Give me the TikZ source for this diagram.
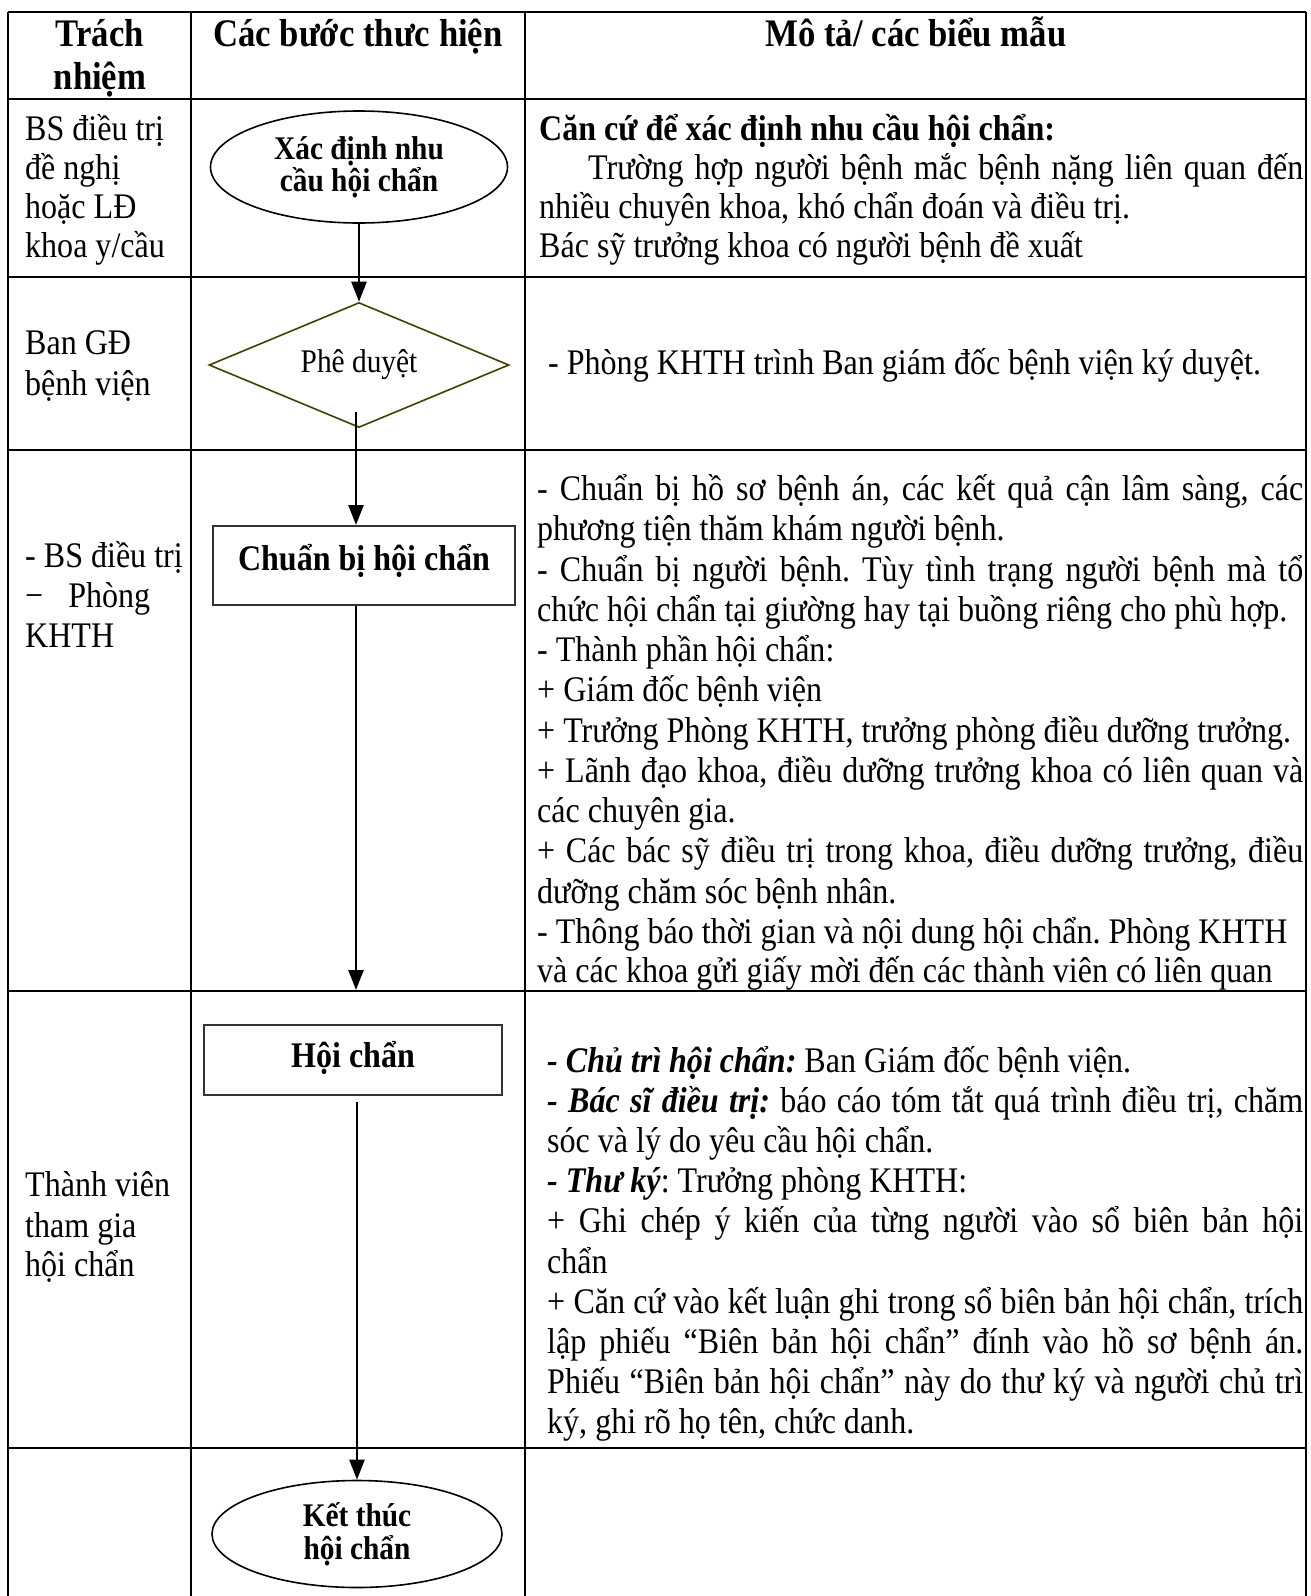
\documentclass[tikz,border=0pt]{standalone}
\usepackage{fontspec}
\setmainfont[FakeStretch=0.89]{Liberation Serif}
\usepackage{tikz}
\usetikzlibrary{shapes.geometric,arrows.meta}
\definecolor{olivedk}{RGB}{66,62,4}
\newcommand\bodyfont{\fontsize{36}{40}\selectfont}
\newcommand\headfont{\fontsize{39}{43}\selectfont\bfseries}
\newcommand\stepfont{\fontsize{33}{32}\selectfont}
\newcommand\jst[2]{\makebox[#1pt][s]{#2}}
\newcommand\bi[1]{\textbf{\textit{#1}}}
\frenchspacing

\begin{document}
\begin{tikzpicture}[x=1pt,y=-1pt,
  grid/.style={line width=2.7pt},
  txt/.style={anchor=base west,inner sep=0pt,font=\bodyfont},
  hdr/.style={anchor=base,inner sep=0pt,font=\headfont},
  oval/.style={draw,ellipse,line width=1.6pt,inner sep=0pt,align=center,font=\stepfont\bfseries},
  stepbox/.style={draw=black!80,line width=2pt,inner sep=0pt,font=\bodyfont\bfseries},
  flow/.style={line width=2.4pt,-{Triangle[length=20pt,width=15pt]}}]
\useasboundingbox (0,0) rectangle (1310,1596);

\draw[grid] (8,12) -- (1306,12) ; % top
\draw[grid] (8,99) -- (1306,99) ; % header
\draw[grid] (8,277) -- (1306,277) ; % row 1
\draw[grid] (8,450) -- (1306,450) ; % row 2
\draw[grid] (8,991) -- (1306,991) ; % row 3
\draw[grid] (8,1448) -- (1306,1448) ; % row 4
\draw[grid] (8,12) -- (8,1596) ; % left
\draw[grid] (191,12) -- (191,1596) ;
\draw[grid] (525,12) -- (525,1596) ;
\draw[grid] (1306,12) -- (1306,1596) ; % right

\node[hdr] (h1a) at (100,46) {Trách}; % header
\node[hdr] (h1b) at (100,89) {nhiệm};
\node[hdr] (h2) at (358,46) {Các bước thưc hiện};
\node[hdr] (h3) at (916,46) {Mô tả/ các biểu mẫu};

% row 1
\node[txt] (r1a) at (25,140) {BS điều trị};
\node[txt] (r1b) at (25,179) {đề nghị};
\node[txt] (r1c) at (25,218) {hoặc LĐ};
\node[txt] (r1d) at (25,257) {khoa y/cầu};
\node[oval,minimum width=297pt,minimum height=112pt] (xacdinh) at (359,167) {Xác định nhu\\cầu hội chẩn};
\node[txt,font=\bodyfont\bfseries] (d1a) at (539,140) {Căn cứ để xác định nhu cầu hội chẩn:};
\node[txt] (d1b) at (588,179) {\jst{715}{Trường hợp người bệnh mắc bệnh nặng liên quan đến}};
\node[txt] (d1c) at (539,218) {nhiều chuyên khoa, khó chẩn đoán và điều trị.};
\node[txt] (d1d) at (539,257) {Bác sỹ trưởng khoa có người bệnh đề xuất};

% row 2
\node[txt] (r2a) at (25,354) {Ban GĐ};
\node[txt] (r2b) at (25,395) {bệnh viện};
\node[draw=olivedk,diamond,aspect=2.4,line width=1.6pt,inner sep=0pt,minimum width=300pt,minimum height=125pt,font=\stepfont] (pheduyet) at (359,365) {Phê duyệt};
\node[txt] (d2a) at (548,374) {- Phòng KHTH trình Ban giám đốc bệnh viện ký duyệt.};
\draw[flow] (xacdinh.south) -- (pheduyet.north) ;

% row 3
\node[txt] (r3a) at (25,567) {- BS điều trị};
\node[txt] (r3b) at (25,607) {−\hspace*{25pt}Phòng};
\node[txt] (r3c) at (25,647) {KHTH};
\node[stepbox,minimum width=302pt,minimum height=79pt,text height=26pt,text depth=17pt] (chuanbi) at (364,565.5) {Chuẩn bị hội chẩn};
\coordinate (a2s) at (356,412) ;
\coordinate (a3e) at (356,990) ;
\draw[flow] (a2s) -- (a2s |- chuanbi.north) ;
\draw[flow] (a3e |- chuanbi.south) -- (a3e) ;
\node[txt] (d3a) at (537,500) {\jst{766}{- Chuẩn bị hồ sơ bệnh án, các kết quả cận lâm sàng, các}};
\node[txt] (d3b) at (537,540) {phương tiện thăm khám người bệnh.};
\node[txt] (d3c) at (537,581) {\jst{766}{- Chuẩn bị người bệnh. Tùy tình trạng người bệnh mà tổ}};
\node[txt] (d3d) at (537,621) {chức hội chẩn tại giường hay tại buồng riêng cho phù hợp.};
\node[txt] (d3e) at (537,661) {- Thành phần hội chẩn:};
\node[txt] (d3f) at (537,701) {+ Giám đốc bệnh viện};
\node[txt] (d3g) at (537,742) {+ Trưởng Phòng KHTH, trưởng phòng điều dưỡng trưởng.};
\node[txt] (d3h) at (537,782) {\jst{766}{+ Lãnh đạo khoa, điều dưỡng trưởng khoa có liên quan và}};
\node[txt] (d3i) at (537,822) {các chuyên gia.};
\node[txt] (d3j) at (537,862) {\jst{766}{+ Các bác sỹ điều trị trong khoa, điều dưỡng trưởng, điều}};
\node[txt] (d3k) at (537,903) {dưỡng chăm sóc bệnh nhân.};
\node[txt] (d3l) at (537,943) {- Thông báo thời gian và nội dung hội chẩn. Phòng KHTH};
\node[txt] (d3m) at (537,982) {và các khoa gửi giấy mời đến các thành viên có liên quan};

% row 4
\node[txt] (r4a) at (25,1196) {Thành viên};
\node[txt] (r4b) at (25,1237) {tham gia};
\node[txt] (r4c) at (25,1276) {hội chẩn};
\node[stepbox,minimum width=298pt,minimum height=70pt,text height=26pt,text depth=12pt] (hoichan) at (353,1060) {Hội chẩn};
\node[txt] (d4a) at (547,1072) {\bi{- Chủ trì hội chẩn:} Ban Giám đốc bệnh viện.};
\node[txt] (d4b) at (547,1112) {\jst{756}{\bi{- Bác sĩ điều trị:} báo cáo tóm tắt quá trình điều trị, chăm}};
\node[txt] (d4c) at (547,1152) {sóc và lý do yêu cầu hội chẩn.};
\node[txt] (d4d) at (547,1192) {\bi{- Thư ký}: Trưởng phòng KHTH:};
\node[txt] (d4e) at (547,1232) {\jst{756}{+ Ghi chép ý kiến của từng người vào sổ biên bản hội}};
\node[txt] (d4f) at (547,1273) {chẩn};
\node[txt] (d4g) at (547,1313) {\jst{756}{+ Căn cứ vào kết luận ghi trong sổ biên bản hội chẩn, trích}};
\node[txt] (d4h) at (547,1353) {\jst{756}{lập phiếu “Biên bản hội chẩn” đính vào hồ sơ bệnh án.}};
\node[txt] (d4i) at (547,1393) {\jst{756}{Phiếu “Biên bản hội chẩn” này do thư ký và người chủ trì}};
\node[txt] (d4j) at (547,1433) {ký, ghi rõ họ tên, chức danh.};

% row 5
\node[oval,minimum width=290pt,minimum height=107pt,font=\fontsize{33}{33}\selectfont\bfseries] (ketthuc) at (357,1534) {Kết thúc\\hội chẩn};
\coordinate (a4s) at (357,1102) ;
\draw[flow] (a4s) -- (a4s |- ketthuc.north) ;

\end{tikzpicture}
\end{document}
